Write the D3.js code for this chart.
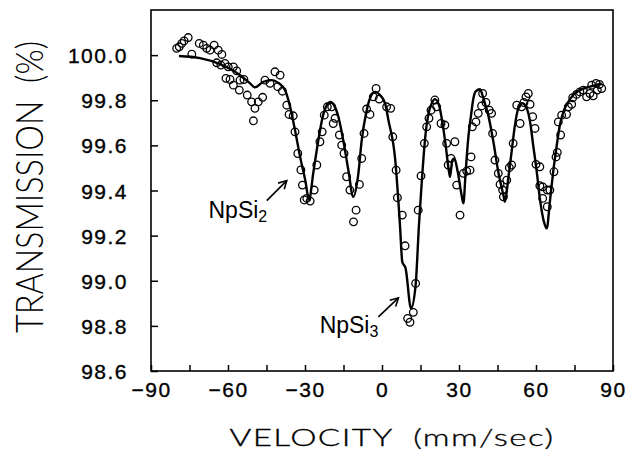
<!DOCTYPE html>
<html>
<head>
<meta charset="utf-8">
<script src="https://cdn.jsdelivr.net/npm/d3@7"></script>
<style>
  html, body { margin: 0; padding: 0; background: #fff; }
  svg { display: block; }
</style>
</head>
<body>
<svg id="chart" width="629" height="455"></svg>
<script>
// ---- data ----
const xTicks = [-90, -60, -30, 0, 30, 60, 90];
const xMinorTicks = [-75, -45, -15, 15, 45, 75];
const yTicks = [98.6, 98.8, 99.0, 99.2, 99.4, 99.6, 99.8, 100.0];

// measured points (velocity mm/sec, transmission %)
const velocity = [
  -80.0,-79.0,-78.0,-77.1,-75.5,-74.1,-71.2,-69.6,-68.3,-67.0,
  -65.4,-63.8,-62.4,-64.4,-62.8,-61.2,-59.9,-57.9,-56.6,-60.8,
  -59.2,-57.9,-55.6,-55.3,-53.8,-52.5,-50.8,-49.5,-48.2,-46.5,
  -50.1,-45.6,-43.6,-41.7,-39.7,-40.6,-38.8,-37.1,-36.2,-34.6,
  -33.9,-32.8,-31.6,-31.0,-30.3,-29.3,-28.0,-26.4,-25.4,-24.2,
  -23.3,-22.5,-21.3,-19.6,-18.3,-19.0,-16.6,-15.7,-14.8,-13.8,
  -12.5,-10.1,-11.1,-8.8,-7.9,-7.0,-6.0,-4.7,-3.4,-2.3,
  -1.1,1.8,3.4,4.2,5.5,6.0,7.9,9.0,10.0,10.9,
  12.2,13.1,14.1,15.2,16.5,17.4,18.3,19.1,20.6,21.3,
  23.0,24.5,25.2,28.4,26.9,25.8,29.1,30.4,31.7,33.0,
  34.7,35.2,34.3,36.6,37.5,38.8,39.2,40.5,41.8,42.7,
  43.1,44.0,45.3,46.0,47.0,47.3,48.6,49.6,50.5,51.1,
  52.5,53.8,54.4,55.3,56.1,57.0,57.7,58.7,59.6,60.0,
  61.5,61.5,62.6,64.4,64.4,62.6,65.4,67.0,67.8,68.3,
  69.6,68.7,70.0,71.9,72.6,73.9,74.3,75.8,77.1,78.4,
  79.7,81.0,81.7,83.4,84.7,83.9,85.6,82.3
];
const transmission = [
  100.030,100.037,100.052,100.063,100.078,100.004,100.052,100.044,100.030,100.022,
  100.044,100.022,100.003,99.966,99.956,99.963,99.948,99.948,99.930,99.897,
  99.892,99.867,99.845,99.889,99.892,99.823,99.793,99.764,99.793,99.813,
  99.709,99.889,99.875,99.926,99.911,99.860,99.840,99.778,99.737,99.731,
  99.660,99.564,99.491,99.424,99.358,99.365,99.353,99.402,99.513,99.616,
  99.660,99.734,99.771,99.771,99.720,99.697,99.646,99.601,99.564,99.461,
  99.402,99.313,99.261,99.427,99.542,99.653,99.761,99.737,99.815,99.852,
  99.805,99.771,99.764,99.638,99.490,99.368,99.291,99.155,98.833,98.816,
  98.860,98.988,99.313,99.465,99.609,99.682,99.720,99.756,99.801,99.771,
  99.697,99.690,99.609,99.616,99.542,99.513,99.424,99.291,99.476,99.486,
  99.549,99.682,99.490,99.704,99.742,99.775,99.830,99.790,99.756,99.742,
  99.653,99.535,99.476,99.427,99.402,99.372,99.446,99.501,99.513,99.609,
  99.778,99.697,99.771,99.790,99.815,99.830,99.782,99.727,99.675,99.516,
  99.505,99.421,99.365,99.402,99.328,99.416,99.402,99.483,99.549,99.569,
  99.646,99.704,99.734,99.737,99.771,99.782,99.811,99.826,99.837,99.845,
  99.815,99.830,99.867,99.875,99.870,99.845,99.852,99.820
];

// fitted curve
const fitVelocity = [
  -79.1,-70.9,-63.1,-55.3,-51.4,-49.5,-46.2,-43.0,-40.4,-37.8,
  -35.8,-33.9,-31.9,-29.9,-28.4,-26.8,-24.8,-23.1,-21.5,-20.0,
  -18.7,-17.0,-15.1,-13.1,-11.2,-9.2,-7.9,-6.2,-4.7,-2.7,
  -0.8,1.2,2.5,5.1,7.0,7.9,9.2,11.3,13.1,14.4,
  15.5,16.8,18.0,19.4,20.6,22.2,23.5,24.8,26.1,26.5,
  27.4,28.2,29.5,31.0,31.7,32.6,33.6,34.7,35.6,36.6,
  38.2,39.5,41.4,43.4,45.3,47.3,47.9,49.2,50.5,51.8,
  53.1,54.8,56.4,57.7,58.9,60.3,61.5,63.1,64.2,65.4,
  66.7,68.1,69.3,70.9,72.6,74.5,77.1,81.0,85.6
];
const fitTransmission = [
  99.996,99.987,99.960,99.911,99.875,99.857,99.882,99.889,99.877,99.845,
  99.771,99.668,99.549,99.446,99.358,99.476,99.623,99.727,99.778,99.793,
  99.778,99.727,99.623,99.490,99.372,99.476,99.623,99.742,99.808,99.837,
  99.823,99.786,99.712,99.542,99.247,99.084,99.055,98.878,98.981,99.247,
  99.439,99.631,99.734,99.786,99.805,99.778,99.704,99.601,99.483,99.461,
  99.535,99.542,99.483,99.380,99.343,99.483,99.631,99.734,99.808,99.840,
  99.849,99.808,99.734,99.616,99.483,99.380,99.350,99.454,99.572,99.690,
  99.764,99.786,99.764,99.704,99.601,99.483,99.365,99.261,99.232,99.350,
  99.483,99.601,99.690,99.756,99.793,99.823,99.845,99.860,99.875
];

// annotations: label, subscript, text anchor point, arrow from, arrow to (data units)
const annLabels = ["NpSi", "NpSi"];
const annSubs = ["2", "3"];
const annText = [[-67.6, 99.28], [-24.3, 98.77]];
const annFrom = [[-44.9, 99.355], [-1.4, 98.840]];
const annTo = [[-37.1, 99.444], [6.4, 98.924]];

// ---- drawing ----
const svg = d3.select("#chart");
const x = d3.scaleLinear().domain([-90, 90]).range([151, 613]);
const y = d3.scaleLinear().domain([98.6, 100.2]).range([371, 10]);

const FONT = "'Liberation Sans', Arial, Helvetica, sans-serif";
const LIGHT = "Lato, 'Liberation Sans', sans-serif";

// frame
svg.append("rect")
  .attr("x", x(-90)).attr("y", y(100.2))
  .attr("width", x(90) - x(-90)).attr("height", y(98.6) - y(100.2))
  .attr("fill", "none").attr("stroke", "#000").attr("stroke-width", 1.6);

// left axis (ticks inward)
const yAxis = d3.axisLeft(y).tickValues(yTicks).tickSizeInner(-7).tickSizeOuter(0)
  .tickFormat(d3.format(".1f"));
const gy = svg.append("g").attr("transform", `translate(${x(-90)},0)`).call(yAxis);
gy.select(".domain").remove();
gy.selectAll(".tick line").attr("stroke", "#000").attr("stroke-width", 1.5);
gy.selectAll(".tick text")
  .attr("x", -23).attr("dy", "0.36em")
  .attr("font-family", FONT).attr("font-size", 21)
  .attr("letter-spacing", "1.5px")
  .attr("fill", "#000").attr("stroke", "#000").attr("stroke-width", 0.35);

// bottom axis (ticks inward)
const xAxis = d3.axisBottom(x).tickValues(xTicks.concat(xMinorTicks)).tickSizeInner(-6).tickSizeOuter(0)
  .tickFormat(d => xTicks.includes(d) ? (d < 0 ? "\u2212" + Math.abs(d) : String(d)) : "");
const gx = svg.append("g").attr("transform", `translate(0,${y(98.6)})`).call(xAxis);
gx.select(".domain").remove();
gx.selectAll(".tick line").attr("stroke", "#000").attr("stroke-width", 1.5);
gx.selectAll(".tick text")
  .attr("y", 26).attr("dy", 0)
  .attr("font-family", FONT).attr("font-size", 21)
  .attr("letter-spacing", "1.5px")
  .attr("fill", "#000").attr("stroke", "#000").attr("stroke-width", 0.35);

// axis titles
svg.append("text")
  .attr("x", 392).attr("y", 446)
  .attr("text-anchor", "middle")
  .attr("font-family", LIGHT).attr("font-size", 24)
  .attr("font-weight", 300)
  .attr("letter-spacing", "1px")
  .attr("textLength", 325).attr("lengthAdjust", "spacingAndGlyphs")
  .attr("fill", "#000").attr("stroke", "#000").attr("stroke-width", 0.3)
  .text("VELOCITY\u00a0\u00a0(mm/sec)");

svg.append("text")
  .attr("transform", "translate(43,187) rotate(-90)")
  .attr("text-anchor", "middle")
  .attr("font-family", LIGHT)
  .attr("font-size", 37)
  .attr("font-weight", 300)
  .attr("textLength", 292).attr("lengthAdjust", "spacingAndGlyphs")
  .attr("fill", "#000")
  .text("TRANSMISSION\u00a0\u00a0(%)");

// fitted line
const line = d3.line()
  .x((d, i) => x(fitVelocity[i]))
  .y((d, i) => y(fitTransmission[i]))
  .curve(d3.curveMonotoneX);
svg.append("path")
  .datum(fitVelocity)
  .attr("d", line)
  .attr("fill", "none").attr("stroke", "#000")
  .attr("stroke-width", 2.4).attr("stroke-linejoin", "round");

// data circles
svg.append("g").selectAll("circle")
  .data(velocity)
  .join("circle")
  .attr("cx", (d) => x(d))
  .attr("cy", (d, i) => y(transmission[i]))
  .attr("r", 3.8)
  .attr("fill", "none").attr("stroke", "#000").attr("stroke-width", 1.3);

// annotations
const ann = svg.append("g");
annLabels.forEach((lab, i) => {
  const t = ann.append("text")
    .attr("x", x(annText[i][0])).attr("y", y(annText[i][1]))
    .attr("font-family", FONT).attr("font-size", 23).attr("fill", "#000");
  t.append("tspan").text(lab);
  t.append("tspan").attr("font-size", 16).attr("dy", 4).text(annSubs[i]);

  const x1 = x(annFrom[i][0]), y1 = y(annFrom[i][1]);
  const x2 = x(annTo[i][0]), y2 = y(annTo[i][1]);
  ann.append("line").attr("x1", x1).attr("y1", y1).attr("x2", x2).attr("y2", y2)
    .attr("stroke", "#000").attr("stroke-width", 1.6);
  const ang = Math.atan2(y2 - y1, x2 - x1);
  const hl = 9, ha = 0.5;
  const p = d3.path();
  p.moveTo(x2 - hl * Math.cos(ang - ha), y2 - hl * Math.sin(ang - ha));
  p.lineTo(x2, y2);
  p.lineTo(x2 - hl * Math.cos(ang + ha), y2 - hl * Math.sin(ang + ha));
  ann.append("path").attr("d", p.toString())
    .attr("fill", "none").attr("stroke", "#000").attr("stroke-width", 1.6)
    .attr("stroke-linejoin", "miter");
});
</script>
</body>
</html>
